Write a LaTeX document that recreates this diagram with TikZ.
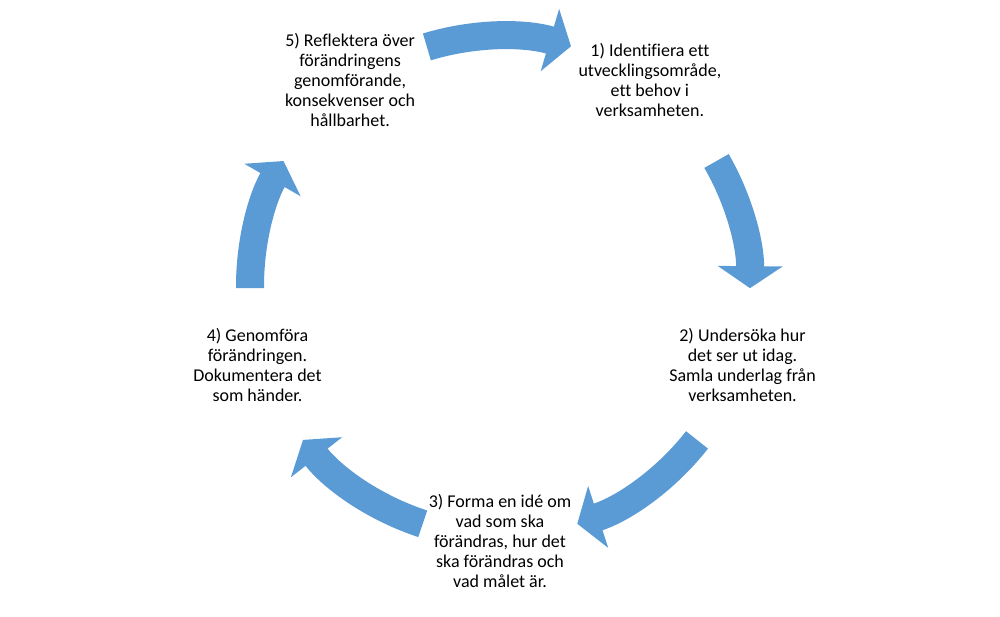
\documentclass[tikz,border=0pt]{standalone}
\usepackage{fontspec}
\setmainfont{Carlito}[Ligatures=NoCommon]
\usetikzlibrary{arrows.meta, calc}
\definecolor{cycleblue}{RGB}{91,155,213}

\begin{document}
\begin{tikzpicture}[x=1pt, y=1pt]
    \tikzstyle{phase}=[align=center, inner sep=0, font=\fontsize{18}{20}\selectfont]
    \tikzstyle{flow}=[draw=cycleblue, line width=28pt, -{Triangle[width=64pt, length=22pt]}, cycleblue]

    \useasboundingbox (0,0) rectangle (1000,617);
    \coordinate (mid) at (500,331);

    \node[phase] (identify) at ($(mid)+(54:255)$) {1) Identifiera ett\\utvecklingsområde,\\ett behov i\\verksamheten.};
    \node[phase] (examine) at ($(mid)+(-18:255)$) {2) Undersöka hur\\det ser ut idag.\\Samla underlag från\\verksamheten.};
    \node[phase] (idea) at ($(mid)+(-90:255)$) {3) Forma en idé om\\vad som ska\\förändras, hur det\\ska förändras och\\vad målet är.};
    \node[phase] (implement) at ($(mid)+(198:255)$) {4) Genomföra\\förändringen.\\Dokumentera det\\som händer.};
    \node[phase] (reflect) at ($(mid)+(126:255)$) {5) Reflektera över\\förändringens\\genomförande,\\konsekvenser och\\hållbarhet.};

    \draw[flow] ([shift={(107:250)}]mid) arc[start angle=107, end angle=73.5, radius=250];
    \draw[flow] ([shift={(30:250)}]mid) arc[start angle=30, end angle=-0.5, radius=250];
    \draw[flow] ([shift={(-38:250)}]mid) arc[start angle=-38, end angle=-72, radius=250];
    \draw[flow] ([shift={(-108:250)}]mid) arc[start angle=-108, end angle=-142, radius=250];
    \draw[flow] ([shift={(180.5:250)}]mid) arc[start angle=180.5, end angle=150, radius=250];
\end{tikzpicture}
\end{document}
